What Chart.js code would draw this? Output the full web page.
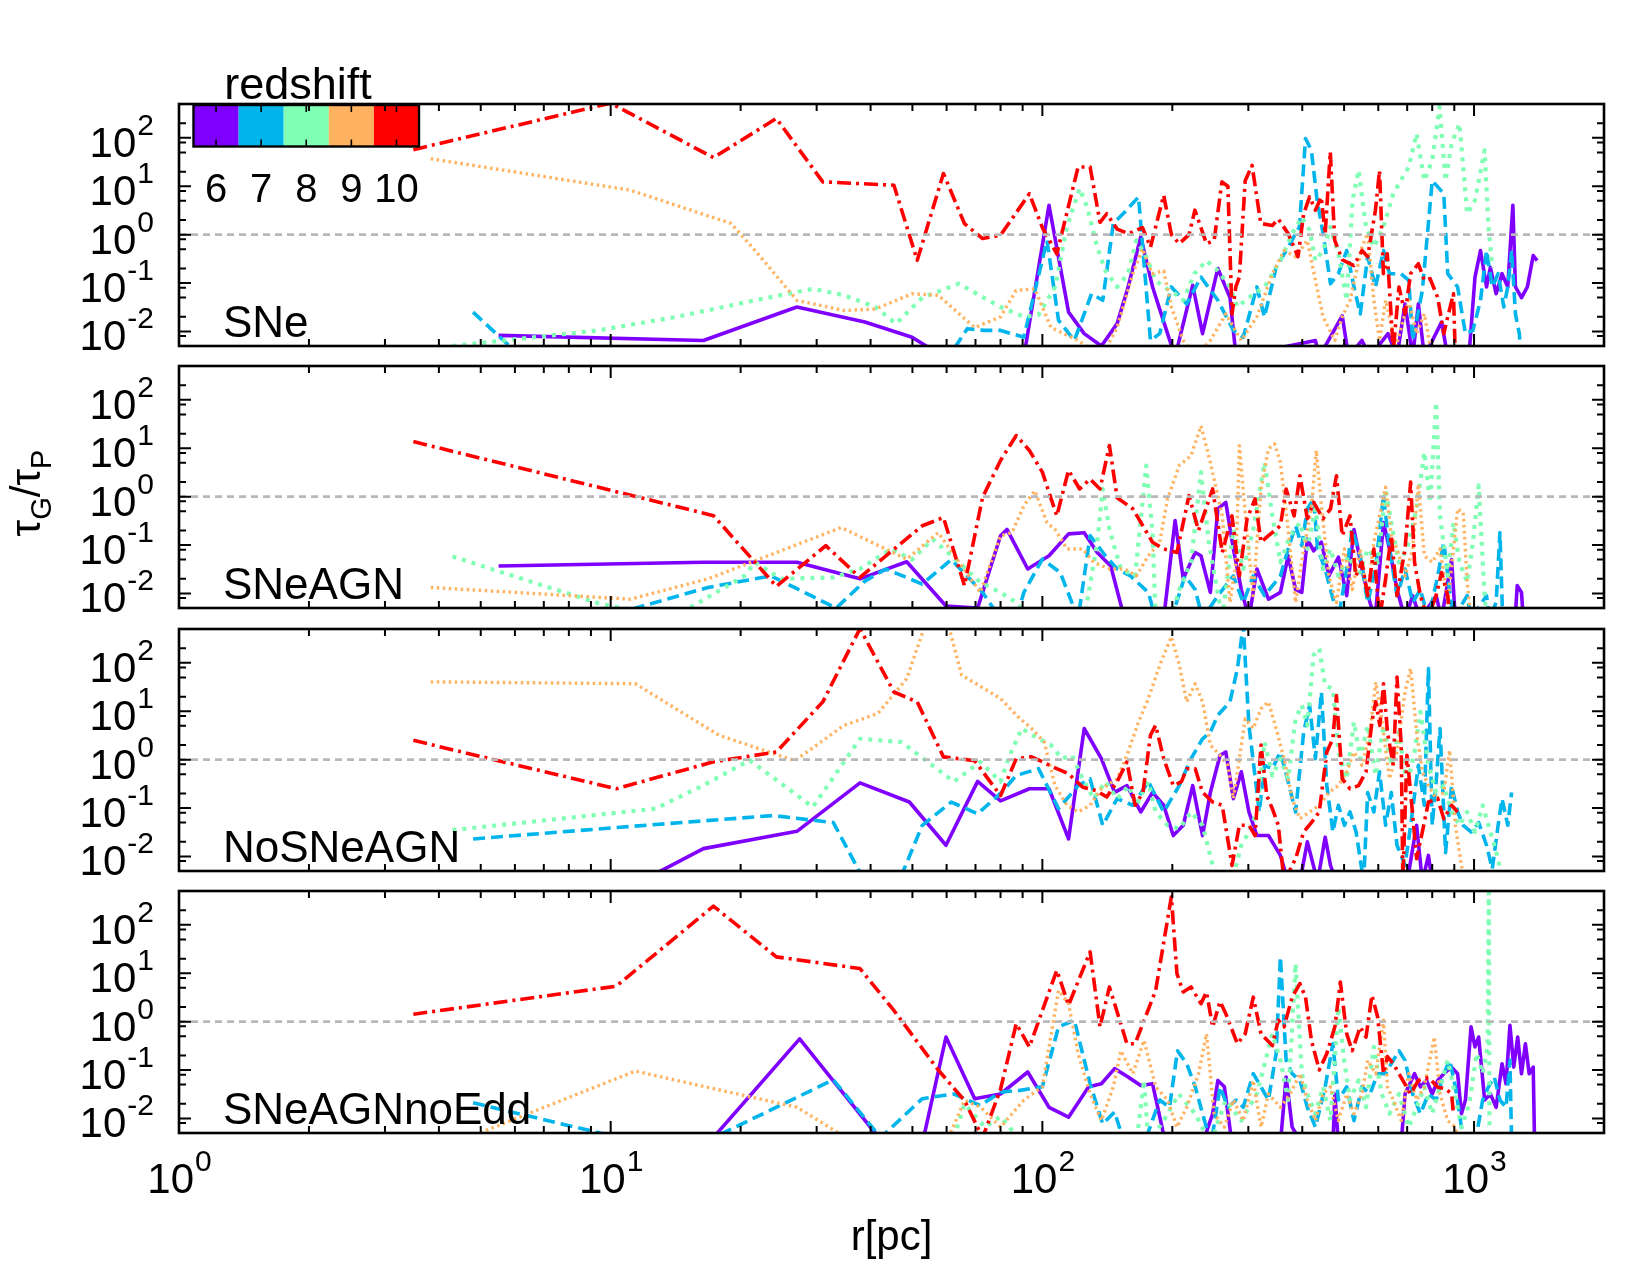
<!DOCTYPE html>
<html><head><meta charset="utf-8">
<script src="https://cdn.jsdelivr.net/npm/chart.js@4.4.1/dist/chart.umd.min.js"></script>
<style>
html,body{margin:0;padding:0;background:#fff;width:1650px;height:1275px;overflow:hidden}
canvas{position:absolute;left:0;top:0}
</style></head><body>
<canvas id="c0" width="1650" height="1275"></canvas>
<canvas id="c1" width="1650" height="1275"></canvas>
<canvas id="c2" width="1650" height="1275"></canvas>
<canvas id="c3" width="1650" height="1275"></canvas>
<script>
// ---------------- categories / labels ----------------
const redshifts = [6, 7, 8, 9, 10];
const zColors = ['#8000ff', '#00b4ec', '#80ffb4', '#ffb360', '#ff0000'];
const panelNames = ['SNe', 'SNeAGN', 'NoSNeAGN', 'SNeAGNnoEdd'];
const xMajorTicks = [1, 10, 100, 1000];
const yMajorTicks = [0.01, 0.1, 1, 10, 100];
const yMinorMult = [2, 5, 8];
const xRange = [1, 2000];
const yRange = [0.005, 500];
const refLevel = 1;
const xTitle = 'r[pc]';
const legendTitle = 'redshift';

// ---------------- series values: [r (pc), tau_G/tau_P] ----------------
// Panel SNe
const SNe_z6 = [[5.5,0.0083],[16.4,0.0065],[27,0.032],[38.8,0.0156],[49.9,0.0076],[59,0.003],[90.6,0.003],[103.6,4.05],[115,0.025],[125,0.009],[137,0.005],[149,0.0145],[158,0.083],[169,0.9],[180,0.083],[195,0.009],[203,0.003],[223,0.09],[235,0.009],[255,0.2],[272,0.05],[281,0.003],[429,0.0065],[438,0.003],[495,0.021],[512,0.003],[550,0.0065],[574,0.003],[632,0.009],[663,0.003],[692,0.037],[721,0.003],[743,0.037],[767,0.003],[841,0.0156],[869,0.003],[973,0.003],[1005,0.133],[1035,0.47],[1069,0.083],[1091,0.21],[1125,0.06],[1161,0.156],[1197,0.083],[1230,4.05],[1247,0.083],[1288,0.05],[1329,0.083],[1371,0.37],[1400,0.29]];
const SNe_z7 = [[4.8,0.025],[6.2,0.003],[60.7,0.003],[67,0.0114],[73.6,0.0105],[80,0.0105],[90.6,0.0076],[102.5,0.76],[109,0.017],[118.6,0.0065],[130,0.06],[138,0.044],[146,1.7],[155,2.9],[167,6],[178,0.0065],[187,0.009],[199,0.083],[216,0.037],[233,0.133],[255,0.044],[277,0.0105],[292,0.0076],[314,0.083],[327,0.02],[348,0.21],[371,0.55],[394,1.44],[407,97],[420,55],[433,5.1],[447,1.05],[465,0.097],[485,0.156],[507,0.47],[527,0.083],[545,0.023],[567,0.35],[591,0.083],[617,0.47],[637,0.156],[677,0.156],[706,0.113],[721,0.0065],[759,0.07],[800,13],[824,9.7],[851,7],[869,0.156],[916,0.083],[955,0.009],[994,0.0105],[1035,0.044],[1069,0.47],[1102,0.083],[1137,0.156],[1172,0.032],[1197,0.083],[1222,0.47],[1247,0.023],[1273,0.009],[1285,0.003]];
const SNe_z8 = [[4.3,0.005],[9.35,0.0105],[14.2,0.02],[21.6,0.044],[29.4,0.076],[34.7,0.056],[41,0.032],[45.8,0.0145],[52.7,0.05],[64,0.097],[80,0.032],[90.6,0.02],[98,0.022],[107,0.083],[114,1.44],[122,9],[127,3.7],[134,0.55],[140,0.18],[149,0.083],[158,0.156],[165,0.76],[174,0.35],[183,0.113],[191,0.083],[203,0.06],[212,0.044],[225,0.156],[240,0.29],[255,0.18],[272,0.083],[283,0.032],[301,0.05],[327,0.083],[356,0.29],[379,1.05],[399,2.3],[416,1.23],[429,0.29],[447,0.47],[465,1.44],[485,0.4],[507,0.044],[523,5.1],[540,21.4],[562,1.44],[586,0.55],[617,1.44],[650,7],[677,13.3],[706,25],[736,122],[767,13],[800,34],[832,440],[859,13],[887,76],[925,197],[964,2.7],[1005,5.1],[1058,55],[1080,1.44],[1102,0.21]];
const SNe_z9 = [[3.83,37],[11.1,8.3],[19,1.7],[21.6,0.47],[27,0.044],[34.7,0.027],[41,0.029],[49.9,0.06],[57.4,0.056],[69.7,0.012],[80,0.02],[86.9,0.07],[96,0.076],[104.7,0.012],[121,0.0065],[137,0.003],[149,0.012],[162,0.156],[170.6,0.51],[179.6,0.156],[191,0.18],[199,0.032],[212,0.0065],[226,0.003],[245,0.0065],[266,0.023],[289,0.0065],[314,0.02],[341,0.156],[363,0.47],[386,0.35],[411,0.76],[429,0.114],[447,0.02],[476,0.0065],[495,0.02],[516,0.044],[550,0.55],[567,1.05],[586,0.044],[604,0.0065],[624,0.044],[660,0.005],[706,0.044],[736,0.009],[767,0.023],[800,0.003]];
const SNe_z10 = [[3.49,57],[10,520],[17.3,39],[24.2,251],[31,12.3],[45.3,10.5],[51.3,0.295],[59,18.3],[66,1.69],[72.7,0.83],[80,0.97],[93.3,7],[100,1.4],[108,0.4],[121,25],[129,25],[136,1.8],[141,2.7],[149,1.3],[158.5,1.05],[170.5,1.4],[178,0.55],[191,6.5],[199,1.0],[207.5,0.65],[218.6,1.0],[225.6,3.2],[240,0.65],[250,0.76],[260.6,12.3],[269,10],[275,0.023],[280.6,0.083],[286,0.133],[295,13],[306,27],[320.6,1.7],[341,1.55],[352,2.1],[371,1.05],[391,0.35],[403,2.7],[416,6],[429,3.2],[442.6,6],[452,1.05],[464.5,51],[475.6,0.76],[495.5,0.3],[527,0.23],[550,0.47],[567,0.35],[591,3.2],[604,21],[616.6,0.156],[629.6,0.4],[650,0.004],[670,0.083],[692,0.023],[713,0.156],[743,0.25],[767,0.113],[791,0.123],[824,0.05],[851,0.009],[869,0.02],[896,0.06],[905,0.003]];

// Panel SNeAGN
const SNeAGN_z6 = [[5.5,0.037],[16.4,0.044],[27,0.044],[37.8,0.02],[48.5,0.045],[59.8,0.0055],[70.8,0.005],[80,0.155],[82.8,0.21],[92.5,0.032],[103.6,0.06],[115,0.17],[125,0.18],[134,0.07],[144,0.037],[155,0.003],[191,0.003],[203,0.32],[212,0.02],[226,0.07],[233,0.06],[245,0.0105],[255,0.56],[266,0.76],[277,0.083],[289,0.012],[301,0.003],[314,0.032],[334,0.0076],[356,0.0105],[371,0.06],[386,0.012],[399,0.0105],[411,0.133],[425,0.076],[443,0.114],[461,0.023],[485,0.056],[507,0.009],[527,0.21],[550,0.032],[574,0.0065],[590,0.003],[617,0.29],[637,0.083],[663,0.012],[692,0.003],[721,0.009],[751,0.003],[817,0.009],[841,0.003],[887,0.05],[905,0.003],[1245,0.003],[1259,0.0145],[1288,0.0105],[1300,0.003]];
const SNeAGN_z7 = [[9.35,0.003],[16.8,0.0133],[23.5,0.023],[33.3,0.005],[38.8,0.018],[43.4,0.032],[52.7,0.0156],[61.5,0.05],[72.7,0.0105],[80,0.003],[87,0.003],[90.6,0.0105],[100,0.051],[110,0.027],[121,0.003],[129,0.156],[140,0.06],[149,0.032],[160,0.023],[176,0.0105],[183,0.003],[199,0.003],[214,0.023],[226,0.012],[235,0.003],[255,0.009],[277,0.023],[292,0.0065],[308,0.023],[327,0.009],[356,0.023],[371,0.083],[386,0.25],[399,0.097],[411,0.56],[425,0.9],[434,0.083],[452,0.032],[465,0.012],[485,0.003],[507,0.032],[522,0.21],[545,0.06],[567,0.0065],[591,0.032],[617,1.05],[637,0.083],[663,0.009],[692,0.032],[721,0.0065],[751,0.012],[784,0.003],[824,0.023],[851,0.114],[877,0.012],[896,0.003],[964,0.009],[984,0.003],[1069,0.009],[1085,0.003],[1125,0.0065],[1148,0.18],[1165,0.003]];
const SNeAGN_z8 = [[4.3,0.058],[9.35,0.0063],[13.8,0.003],[20.4,0.023],[21.6,0.044],[24.8,0.02],[32.8,0.0214],[37.8,0.032],[44.6,0.083],[49.9,0.05],[55.7,0.133],[64,0.044],[71.8,0.017],[80,0.0105],[87,0.0065],[94,0.003],[125,0.003],[134,0.114],[138,1.44],[143,0.21],[152,0.032],[164,0.023],[174,4.4],[180,0.18],[183,0.003],[199,0.003],[207.5,0.012],[221,0.044],[233,3.2],[243,0.114],[261,0.003],[277,0.21],[292,0.032],[308,0.21],[327,5.1],[341,0.4],[356,0.044],[375,0.156],[395,0.29],[411,0.083],[429,0.56],[447,0.032],[465,0.083],[485,0.023],[512,0.06],[540,0.023],[567,0.083],[599,0.044],[624,1.44],[643,0.29],[670,0.044],[699,0.083],[736,0.56],[767,8.3],[791,0.76],[817,89],[834,0.4],[869,0.023],[896,0.29],[925,0.044],[964,0.017],[994,0.114],[1025,1.7],[1058,0.009],[1070,0.003]];
const SNeAGN_z9 = [[3.83,0.0133],[11.1,0.0076],[16.8,0.02],[34.2,0.23],[48.5,0.051],[57.4,0.18],[71.8,0.0105],[80,0.155],[85,0.18],[90.6,0.65],[96,1.33],[102.5,0.29],[107,0.21],[114,0.083],[124,0.083],[131.5,0.044],[143,0.032],[155,0.032],[165,0.023],[176,0.06],[187,0.114],[195,0.9],[207.5,4.4],[221,7],[233,29],[245,5.1],[261,0.4],[272,0.0065],[281,0.044],[286,11.3],[295,0.47],[307.6,0.009],[321,1.44],[334,9.7],[345,12.3],[356,5.1],[371,0.21],[386,0.0065],[403,0.083],[420,0.56],[431,9],[443,0.65],[461,0.023],[480,0.0065],[501,0.083],[522,0.012],[545,0.083],[567,0.009],[586,0.114],[604,0.4],[624,1.56],[643,0.156],[663,0.083],[692,0.023],[721,0.083],[743,1.8],[767,0.06],[800,0.044],[834,0.083],[869,0.0065],[896,0.083],[916,0.56],[944,0.47],[964,0.017],[984,0.003]];
const SNeAGN_z10 = [[3.49,13.7],[17.3,0.405],[24.2,0.014],[31.5,0.097],[37.8,0.0214],[52.7,0.25],[59,0.37],[66,0.0145],[72.7,0.97],[80,5.6],[87,18.3],[93.3,9],[100,3.2],[108,0.4],[115,3.5],[122,1.44],[129,2.3],[136,1.44],[143,11.4],[149,0.95],[162,0.56],[180,0.114],[191,0.083],[205,0.07],[218.6,1.05],[230,0.2],[248,1.44],[261,0.07],[275,0.4],[286,0.023],[298,0.35],[311,0.9],[321,0.114],[334,0.156],[356,0.25],[367,1.44],[383,0.4],[395,2.7],[411,0.35],[425,0.76],[447,0.35],[465,0.56],[480,2.7],[495,0.156],[516,0.4],[532,0.023],[550,0.044],[567,0.009],[586,0.083],[604,0.003],[624,0.02],[643,0.156],[663,0.009],[692,0.083],[713,2],[728,0.044],[751,0.009],[780,0.003],[817,0.009],[841,0.027],[869,0.009],[880,0.003]];

// Panel NoSNeAGN
const NoSNeAGN_z6 = [[11.7,0.003],[16.4,0.0145],[27,0.033],[37.8,0.33],[49.2,0.133],[59.8,0.017],[70.8,0.355],[80,0.14],[93.3,0.25],[103.6,0.25],[115,0.023],[125,4.4],[137,1.05],[147,0.21],[157,0.29],[169,0.083],[180,0.21],[191,0.114],[201,0.027],[212,0.044],[223,0.29],[235,0.027],[245,0.21],[258,1.23],[266,1.44],[277,0.156],[289,0.56],[301,0.083],[314,0.027],[334,0.027],[356,0.0105],[371,0.003],[395,0.003],[411,0.02],[434,0.003],[452,0.025],[465,0.0065],[480,0.003],[700,0.003],[736,0.044],[759,0.003],[784,0.0105],[800,0.003]];
const NoSNeAGN_z7 = [[4.8,0.023],[10.5,0.04],[23.8,0.07],[32.8,0.05],[38.8,0.003],[46.5,0.003],[52.7,0.044],[61.5,0.133],[70.8,0.076],[80,0.2],[87,0.47],[98,0.65],[109,0.097],[121,0.29],[129,0.4],[138,0.044],[149,0.156],[162,0.114],[176,0.35],[191,0.083],[207.5,0.29],[221,1.05],[235,2.7],[245,3.7],[255,8.3],[272,15.6],[283,76],[292,600],[301,5.1],[318,0.083],[327,0.76],[341,0.65],[356,1.44],[371,0.35],[386,0.083],[403,3.7],[416,13.3],[429,1.05],[443,25],[456,0.29],[471,0.032],[485,0.114],[501,0.044],[516,0.083],[533,0.032],[555,0.003],[567,0.21],[586,0.083],[604,0.56],[624,0.044],[643,0.21],[663,0.017],[692,0.0065],[713,0.044],[743,0.76],[767,0.114],[784,76],[800,0.044],[817,0.35],[834,4.4],[859,0.012],[887,0.29],[916,0.083],[944,0.044],[984,0.032],[1025,0.05],[1069,0.017],[1102,0.0055],[1137,0.044],[1161,0.156],[1197,0.044],[1222,0.21]];
const NoSNeAGN_z8 = [[4.3,0.035],[12.7,0.097],[16.4,0.295],[21,0.97],[29.4,0.105],[37.8,2.7],[47.2,2.3],[62.4,0.35],[71.8,0.9],[80,0.35],[83.4,1.05],[89.5,4.4],[98,2.7],[104.7,2],[111,1.05],[117,1.23],[124,0.4],[131.5,0.156],[140,0.35],[149,0.156],[158.5,0.29],[165,0.114],[176,0.35],[183,0.083],[195,0.044],[207.5,0.037],[221,0.083],[235,0.044],[248,0.0065],[258,0.003],[275,0.003],[289,0.017],[301,0.032],[314,0.083],[327,2.3],[341,0.47],[356,1.05],[371,0.4],[386,7],[399,13.3],[411,5.1],[425,144],[438,197],[452,34],[471,29],[485,1.44],[507,0.4],[527,6],[545,1.05],[567,5.1],[592,0.47],[617,5.1],[643,0.76],[670,3.7],[699,0.29],[728,1.44],[751,9.7],[784,0.76],[817,0.21],[851,0.29],[887,0.083],[925,0.044],[964,0.083],[1005,0.032],[1047,0.114],[1091,0.032],[1137,0.009],[1160,0.003]];
const NoSNeAGN_z9 = [[3.83,40.5],[11.4,37],[17.8,3.2],[26.7,0.95],[34.7,5.1],[41.6,9],[48.5,47],[53.5,600],[60.6,600],[65,56],[80,18.3],[87,8.3],[94.4,4.4],[101,2.3],[107,0.29],[114,0.114],[121,0.083],[129,0.114],[137,0.25],[149,0.4],[158,1.44],[167,6],[176,18.3],[187,89],[199,346],[207,100],[216,15.6],[226,37],[235,15.6],[245,2],[258,1.23],[269,0.76],[277,0.156],[286,1.05],[295,7],[308,4.4],[321,11.3],[334,15.6],[348,4.4],[363,1.05],[379,0.156],[395,0.06],[416,0.083],[438,0.114],[461,0.21],[485,0.29],[507,0.56],[527,1.44],[550,0.76],[574,3.7],[592,40],[611,7],[637,0.4],[663,1.44],[692,25],[713,76],[736,3.7],[759,0.56],[784,0.29],[817,0.156],[851,0.21],[878,1.56],[905,0.044],[935,0.0065],[950,0.003]];
const NoSNeAGN_z10 = [[3.49,2.5],[10.3,0.25],[17.3,0.9],[24.2,1.44],[31,15.6],[37.8,510],[45.3,25],[51.3,15.6],[59,1.14],[69.7,0.95],[80,0.18],[87,1.05],[94.4,1.14],[100,0.9],[108,0.65],[115,0.51],[124,0.27],[133,0.23],[141,0.17],[149,0.35],[157,0.9],[164,0.114],[171,0.21],[178,3.2],[183,5.1],[191,1.05],[201,0.29],[210,0.35],[216,0.65],[226,0.65],[235,0.21],[248,0.133],[261,0.114],[275,0.0065],[286,0.044],[301,0.044],[311,0.027],[321,2],[331,0.18],[341,0.097],[352,0.044],[363,0.003],[386,0.009],[403,0.032],[420,0.05],[438,0.083],[456,1.44],[471,2.7],[480,21],[495,0.4],[516,0.25],[540,0.29],[562,0.56],[580,6],[592,15.6],[605,5.1],[617,37],[630,3.7],[650,0.76],[663,51],[678,2],[684,0.003],[699,1.23],[713,0.21],[736,0.009],[759,0.032],[784,0.133],[824,0.156],[851,0.06],[887,0.114],[916,0.083]];

// Panel SNeAGNnoEdd
const SNeAGNnoEdd_z6 = [[16.8,0.003],[27.4,0.44],[42.9,0.003],[52.7,0.003],[59.8,0.48],[69.7,0.0256],[80,0.032],[92.5,0.091],[103.6,0.017],[115,0.0106],[128,0.045],[137,0.052],[147,0.107],[158,0.072],[169,0.048],[180,0.052],[193,0.003],[235,0.003],[248,0.0125],[255,0.061],[264,0.045],[275,0.003],[356,0.003],[367,0.072],[379,0.0066],[399,0.003],[471,0.003],[476,0.032],[485,0.003],[678,0.003],[692,0.032],[728,0.084],[751,0.045],[776,0.061],[800,0.032],[824,0.061],[851,0.084],[887,0.115],[916,0.084],[935,0.0125],[955,0.024],[984,0.78],[1005,0.3],[1025,0.48],[1058,0.024],[1091,0.032],[1125,0.017],[1161,0.135],[1186,0.052],[1211,0.84],[1236,0.115],[1262,0.48],[1288,0.084],[1315,0.35],[1342,0.084],[1371,0.115],[1381,0.003]];
const SNeAGNnoEdd_z7 = [[4.8,0.021],[10.5,0.004],[17.3,0.004],[32.8,0.063],[42.2,0.004],[52.7,0.0256],[62.4,0.032],[71.8,0.0185],[80,0.035],[88.7,0.038],[100,0.045],[109,0.78],[118.6,1.07],[129,0.052],[138,0.0077],[147,0.0136],[155,0.003],[172,0.003],[187,0.024],[197,0.017],[205.6,0.25],[216,0.135],[226,0.045],[235,0.0125],[246,0.003],[258,0.045],[269,0.017],[281,0.024],[292,0.017],[308,0.084],[321,0.045],[334,0.024],[348,0.22],[356,21.8],[367,0.158],[379,0.084],[395,0.061],[411,0.017],[429,0.0066],[452,0.045],[471,0.35],[485,0.024],[507,0.045],[527,0.009],[550,0.045],[574,0.032],[598,0.084],[624,0.084],[643,0.135],[670,0.25],[692,0.158],[721,0.032],[751,0.0125],[784,0.032],[817,0.024],[851,0.084],[878,0.158],[905,0.045],[935,0.0066],[955,0.003],[1005,0.003],[1047,0.024],[1080,0.045],[1114,0.072],[1148,0.024],[1186,0.017],[1211,0.158],[1222,0.003]];
const SNeAGNnoEdd_z8 = [[62.4,0.004],[66,0.02],[73.6,0.0066],[80,0.011],[90,0.003],[165,0.003],[172,0.061],[176,0.003],[191,0.009],[207,0.032],[226,0.0125],[245,0.003],[266,0.024],[289,0.009],[314,0.032],[341,0.56],[356,0.158],[371,0.024],[386,15.8],[399,0.084],[411,0.032],[429,0.0125],[447,0.045],[465,0.009],[485,2],[500,0.158],[516,0.024],[540,0.061],[562,0.017],[586,0.3],[611,0.032],[637,0.0125],[670,0.032],[706,0.0066],[736,0.017],[767,0.045],[800,0.0125],[834,0.045],[869,0.158],[896,0.045],[935,0.0066],[975,0.02],[1014,0.22],[1047,0.084],[1075,0.3],[1082,600],[1086,0.003]];
const SNeAGNnoEdd_z9 = [[4.3,0.003],[11.4,0.095],[27,0.017],[37,0.003],[59.8,0.003],[66,0.0235],[72,0.017],[80,0.0066],[90.6,0.024],[100,0.045],[109,4.4],[115,2.35],[121,0.22],[129,0.032],[137,0.009],[146,0.045],[152,0.25],[162,0.084],[172,0.41],[183,0.045],[195,0.024],[205,0.0066],[216,0.017],[230,0.084],[240,0.56],[250,0.0125],[264,0.0066],[277,0.024],[292,0.009],[308,0.061],[321,0.0066],[334,0.032],[356,0.017],[375,0.032],[395,0.084],[411,0.024],[429,0.009],[447,0.032],[465,0.045],[485,0.009],[507,0.032],[527,0.0125],[550,0.032],[567,0.158],[592,0.084],[617,1.07],[630,0.045],[650,0.024],[678,0.009],[706,0.084],[736,0.024],[767,0.045],[809,0.48],[834,0.032],[869,0.009],[905,0.0066],[920,0.003]];
const SNeAGNnoEdd_z10 = [[3.49,1.42],[10.3,5.4],[17.3,243],[24.2,21.8],[37.8,12.5],[45.3,1.7],[57.4,0.1],[66,0.0235],[72.7,0.004],[80,0.04],[87,0.91],[93.3,0.3],[108,11.5],[115,2.2],[129,27.6],[136,0.78],[143,5.2],[157,0.35],[164,0.35],[183,4.4],[199,380],[205,9.8],[212,4.1],[221,5.2],[233,2.35],[240,4.1],[248,0.78],[258,2.6],[266,1.46],[283,0.35],[295,0.56],[308,3.2],[321,0.56],[341,0.32],[352,1.07],[363,0.78],[379,3.2],[395,6.1],[407,3.2],[420,0.41],[438,0.1],[456,0.22],[476,0.78],[490,6.6],[507,0.56],[522,0.25],[545,0.78],[562,0.48],[580,3.5],[598,1.25],[617,0.085],[630,0.19],[650,0.135],[678,0.07],[713,0.032],[743,0.061],[784,0.07],[824,0.044],[859,0.041],[887,0.032],[896,0.0125]];

const panelSeries = [
  [SNe_z6, SNe_z7, SNe_z8, SNe_z9, SNe_z10],
  [SNeAGN_z6, SNeAGN_z7, SNeAGN_z8, SNeAGN_z9, SNeAGN_z10],
  [NoSNeAGN_z6, NoSNeAGN_z7, NoSNeAGN_z8, NoSNeAGN_z9, NoSNeAGN_z10],
  [SNeAGNnoEdd_z6, SNeAGNnoEdd_z7, SNeAGNnoEdd_z8, SNeAGNnoEdd_z9, SNeAGNnoEdd_z10]
];

// ---------------- layout / style ----------------
const FONT = '"Liberation Sans", Arial, Helvetica, sans-serif';
const W = 1650, H = 1275;
const PLOT_L = 179, PLOT_R = 1604;
const panelTop = [104, 366, 629, 891];
const panelH = 242;
const zStyle = [
  { dash: [], width: 3.6 },
  { dash: [12, 6], width: 3.6 },
  { dash: [4, 6], width: 4.2 },
  { dash: [2.5, 3.5], width: 3.4 },
  { dash: [14, 5, 3, 5], width: 3.6 }
];

function supLabel(ctx, exp, x, baseY, align) {
  ctx.font = '42px ' + FONT;
  const wb = ctx.measureText('10').width;
  ctx.font = '30px ' + FONT;
  const we = ctx.measureText(exp).width;
  let x0 = align === 'right' ? x - wb - we : x - (wb + we) / 2;
  ctx.textAlign = 'left';
  ctx.textBaseline = 'alphabetic';
  ctx.font = '42px ' + FONT;
  ctx.fillText('10', x0, baseY);
  ctx.font = '30px ' + FONT;
  ctx.fillText(exp, x0 + wb + 1, baseY - 22);
}

function makePlugin(pi) {
  return {
    id: 'gp' + pi,
    afterDatasetsDraw(chart) {
      const ctx = chart.ctx, a = chart.chartArea;
      const xs = chart.scales.x, ys = chart.scales.y;
      ctx.save();
      ctx.fillStyle = '#000';
      ctx.strokeStyle = '#000';
      // colorbar legend in first panel
      if (pi === 0) {
        const bx = 193.5, by = a.top + 1, bw = 45.1, bh = 41.5;
        for (let i = 0; i < redshifts.length; i++) {
          ctx.fillStyle = zColors[i];
          ctx.fillRect(bx + i * bw, by, bw, bh);
        }
        ctx.lineWidth = 1.6;
        ctx.strokeStyle = '#000';
        for (let i = 0; i < redshifts.length; i++) {
          const cx = bx + (i + 0.5) * bw;
          ctx.beginPath();
          ctx.moveTo(cx, by); ctx.lineTo(cx, by + 7);
          ctx.moveTo(cx, by + bh); ctx.lineTo(cx, by + bh - 7);
          ctx.stroke();
        }
        ctx.lineWidth = 2.4;
        ctx.strokeRect(bx, by, bw * redshifts.length, bh);
        ctx.fillStyle = '#000';
        ctx.textAlign = 'center';
        ctx.textBaseline = 'alphabetic';
        ctx.font = '45px ' + FONT;
        ctx.fillText(legendTitle, 298, 99);
        ctx.font = '40px ' + FONT;
        for (let i = 0; i < redshifts.length; i++) {
          ctx.fillText(String(redshifts[i]), bx + (i + 0.5) * bw, 202);
        }
      }
      // ticks (inward, all four sides)
      ctx.strokeStyle = '#000';
      ctx.lineWidth = 2;
      ctx.beginPath();
      for (let d = 1; d < xRange[1]; d *= 10) {
        for (let m = 1; m <= 9; m++) {
          const v = m * d;
          if (v <= xRange[0] || v >= xRange[1]) continue;
          const px = xs.getPixelForValue(v);
          const len = m === 1 ? 12 : 7;
          ctx.moveTo(px, a.bottom); ctx.lineTo(px, a.bottom - len);
          ctx.moveTo(px, a.top); ctx.lineTo(px, a.top + len);
        }
      }
      for (const v of yMajorTicks) {
        const py = ys.getPixelForValue(v);
        ctx.moveTo(a.left, py); ctx.lineTo(a.left + 12, py);
        ctx.moveTo(a.right, py); ctx.lineTo(a.right - 12, py);
      }
      for (let d = 0.001; d < yRange[1]; d *= 10) {
        for (const m of yMinorMult) {
          const v = m * d;
          if (v <= yRange[0] * 1.001 || v >= yRange[1] * 0.999) continue;
          const py = ys.getPixelForValue(v);
          ctx.moveTo(a.left, py); ctx.lineTo(a.left + 7, py);
          ctx.moveTo(a.right, py); ctx.lineTo(a.right - 7, py);
        }
      }
      ctx.stroke();
      // frame
      ctx.lineWidth = 2.6;
      ctx.strokeRect(a.left, a.top, a.right - a.left, a.bottom - a.top);
      // y tick labels
      ctx.fillStyle = '#000';
      for (const v of yMajorTicks) {
        const py = ys.getPixelForValue(v);
        supLabel(ctx, String(Math.round(Math.log10(v))), 153, py + 19, 'right');
      }
      // panel name
      ctx.textAlign = 'left';
      ctx.textBaseline = 'alphabetic';
      ctx.font = '44px ' + FONT;
      ctx.fillText(panelNames[pi], 223, a.bottom - 9);
      // y title on 2nd panel
      if (pi === 1) {
        ctx.save();
        ctx.translate(40, 493);
        ctx.rotate(-Math.PI / 2);
        const parts = [['τ', 42, 0], ['G', 29, 11], ['/', 42, 0], ['τ', 42, 0], ['P', 29, 11]];
        let tw = 0;
        for (const p of parts) { ctx.font = p[1] + 'px ' + FONT; tw += ctx.measureText(p[0]).width; }
        let x = -tw / 2;
        ctx.textAlign = 'left';
        for (const p of parts) {
          ctx.font = p[1] + 'px ' + FONT;
          ctx.fillText(p[0], x, p[2]);
          x += ctx.measureText(p[0]).width;
        }
        ctx.restore();
      }
      // x tick labels + x title on last panel
      if (pi === panelNames.length - 1) {
        for (const v of xMajorTicks) {
          const px = xs.getPixelForValue(v);
          supLabel(ctx, String(Math.round(Math.log10(v))), px, 1193, 'center');
        }
        ctx.textAlign = 'center';
        ctx.font = '42px ' + FONT;
        ctx.fillText(xTitle, (a.left + a.right) / 2, 1250);
      }
      ctx.restore();
    }
  };
}

for (let pi = 0; pi < panelNames.length; pi++) {
  const datasets = [{
    data: [{ x: xRange[0], y: refLevel }, { x: xRange[1], y: refLevel }],
    borderColor: '#b8b8b8', borderWidth: 2.6, borderDash: [7, 5],
    pointRadius: 0, order: 0, clip: 0
  }];
  panelSeries[pi].forEach((ser, zi) => {
    datasets.push({
      label: 'z=' + redshifts[zi],
      data: ser.map(p => ({ x: p[0], y: p[1] })),
      borderColor: zColors[zi],
      borderWidth: zStyle[zi].width,
      borderDash: zStyle[zi].dash,
      borderJoinStyle: 'round',
      pointRadius: 0,
      tension: 0,
      fill: false,
      clip: 0,
      order: 5 - zi
    });
  });
  new Chart(document.getElementById('c' + pi), {
    type: 'line',
    data: { datasets },
    options: {
      responsive: false,
      animation: false,
      devicePixelRatio: 1,
      events: [],
      layout: { padding: { left: PLOT_L, right: W - PLOT_R, top: panelTop[pi], bottom: H - panelTop[pi] - panelH } },
      plugins: { legend: { display: false }, tooltip: { enabled: false }, title: { display: false } },
      scales: {
        x: { type: 'logarithmic', min: xRange[0], max: xRange[1], display: false },
        y: { type: 'logarithmic', min: yRange[0], max: yRange[1], display: false }
      }
    },
    plugins: [makePlugin(pi)]
  });
}
</script>
</body></html>
